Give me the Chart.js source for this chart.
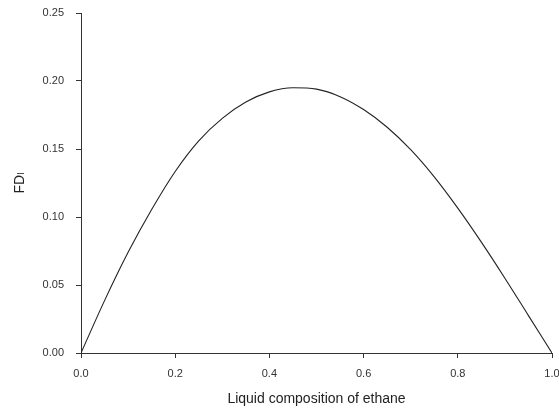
<!DOCTYPE html>
<html>
<head>
<meta charset="utf-8">
<script src="https://cdn.jsdelivr.net/npm/chart.js@4/dist/chart.umd.min.js"></script>
<style>
   html, body { margin: 0; padding: 0; background: #fff; }
   #wrap { width: 559px; height: 408px; }
</style>
</head>
<body>
<div id="wrap"><canvas id="chart" width="559" height="408"></canvas></div>
<script>
// liquid composition of ethane (x) and FD_l
const composition = [0, 0.05, 0.1, 0.15, 0.2, 0.25, 0.3, 0.35, 0.4, 0.45, 0.5, 0.55, 0.6, 0.65, 0.7, 0.75, 0.8, 0.85, 0.9, 0.95, 1.0]
const fdValues = [0, 0.0385, 0.0740, 0.1055, 0.1335, 0.1560, 0.1725, 0.1845, 0.1920, 0.1950, 0.1940, 0.1885, 0.1790, 0.1660, 0.1495, 0.1295, 0.1065, 0.0815, 0.0550, 0.0275, 0]
const xTicks = [0, 0.2, 0.4, 0.6, 0.8, 1.0]
const yTicks = [0, 0.05, 0.10, 0.15, 0.20, 0.25]

const axisColor = '#333'
const fontFamily = '"Liberation Sans", Arial, sans-serif'

const points = composition.map((x, i) => ({ x: x, y: fdValues[i] }))

new Chart(document.getElementById('chart'), {
   type: 'line',
   data: {
      datasets: [{
         data: points,
         borderColor: '#222',
         borderWidth: 1.1,
         pointRadius: 0,
         cubicInterpolationMode: 'monotone',
         fill: false
      }]
   },
   options: {
      responsive: false,
      animation: false,
      layout: { padding: { top: 13, right: 7, left: 0, bottom: 0 } },
      plugins: {
         legend: { display: false },
         tooltip: { enabled: false }
      },
      scales: {
         x: {
            type: 'linear',
            min: 0,
            max: 1,
            afterBuildTicks: s => { s.ticks = xTicks.map(v => ({ value: v })) },
            afterFit: s => {
               s.height = 55
               s.paddingRight = 0
               s.paddingLeft = 0
            },
            border: { display: true, color: axisColor, width: 1 },
            grid: { drawOnChartArea: false, color: axisColor, tickLength: 5 },
            ticks: {
               color: axisColor,
               padding: 9,
               maxRotation: 0,
               font: { family: fontFamily, size: 11 },
               callback: v => v.toFixed(1)
            },
            title: {
               display: true,
               text: 'Liquid composition of ethane',
               color: '#222',
               padding: { top: 7, bottom: 0 },
               font: { family: fontFamily, size: 14 }
            }
         },
         y: {
            min: 0,
            max: 0.25,
            afterBuildTicks: s => { s.ticks = yTicks.map(v => ({ value: v })) },
            afterFit: s => {
               s.width = 81
               s.paddingTop = 0
            },
            border: { display: true, color: axisColor, width: 1 },
            grid: { drawOnChartArea: false, color: axisColor, tickLength: 5 },
            ticks: {
               color: axisColor,
               padding: 12,
               font: { family: fontFamily, size: 11 },
               callback: v => v.toFixed(2)
            },
            title: {
               display: true,
               text: 'FDₗ',
               color: '#222',
               padding: { top: 12, bottom: 0 },
               font: { family: fontFamily + ', "DejaVu Sans"', size: 14 }
            }
         }
      }
   }
})
</script>
</body>
</html>
